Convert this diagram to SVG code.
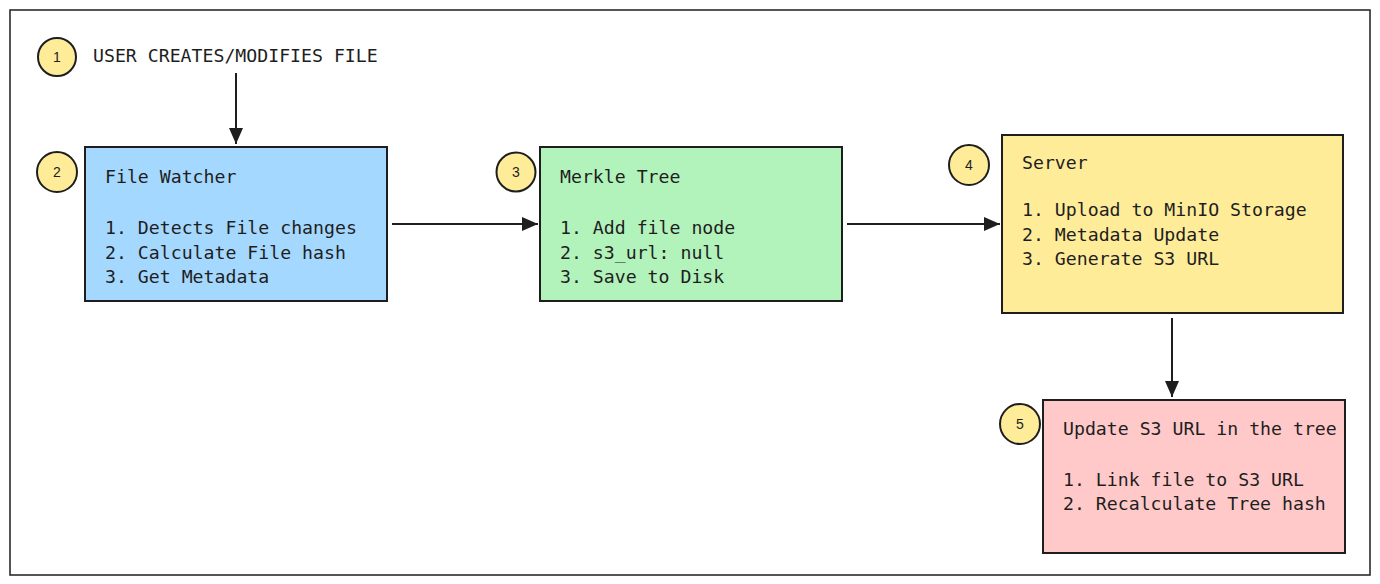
<svg xmlns="http://www.w3.org/2000/svg" width="1380" height="584" viewBox="0 0 1380 584">
  <style>
    .frame { fill: #ffffff; stroke: #1e1e1e; stroke-width: 1.5; }
    .box { stroke: #1e1e1e; stroke-width: 2; }
    .badge { fill: #ffec99; stroke: #1e1e1e; stroke-width: 2; }
    .num { font-family: "Liberation Sans", "Noto Sans", sans-serif; font-size: 14px; fill: #1e1e1e; text-anchor: middle; }
    .txt { font-family: "DejaVu Sans Mono", "Liberation Mono", monospace; font-size: 18.2px; fill: #1e1e1e; }
    .edge { stroke: #1e1e1e; stroke-width: 2; fill: none; marker-end: url(#head); }
  </style>
  <defs>
    <marker id="head" viewBox="0 0 16 14" refX="16" refY="7" markerWidth="16" markerHeight="14" markerUnits="userSpaceOnUse" orient="auto">
      <path d="M0,0 L16,7 L0,14 Z" fill="#1e1e1e"/>
    </marker>
  </defs>

  <rect class="frame" x="10" y="10" width="1360" height="565"/>

  <!-- step 1: trigger -->
  <g id="start">
    <circle class="badge" cx="57" cy="57" r="19"/>
    <text class="num" x="57" y="62">1</text>
    <text class="txt" x="93" y="62">USER CREATES/MODIFIES FILE</text>
  </g>

  <!-- step 2 -->
  <g id="file-watcher">
    <rect class="box" x="85" y="147" width="302" height="154" fill="#a5d8ff"/>
    <circle class="badge" cx="57" cy="172" r="20"/>
    <text class="num" x="57" y="177">2</text>
    <text class="txt" x="105" y="183">File Watcher</text>
    <text class="txt" x="105" y="234">1. Detects File changes</text>
    <text class="txt" x="105" y="259">2. Calculate File hash</text>
    <text class="txt" x="105" y="283">3. Get Metadata</text>
  </g>

  <!-- step 3 -->
  <g id="merkle-tree">
    <rect class="box" x="540" y="147" width="302" height="154" fill="#b2f2bb"/>
    <circle class="badge" cx="516" cy="172" r="19.5"/>
    <text class="num" x="516" y="177">3</text>
    <text class="txt" x="560" y="183">Merkle Tree</text>
    <text class="txt" x="560" y="234">1. Add file node</text>
    <text class="txt" x="560" y="259">2. s3_url: null</text>
    <text class="txt" x="560" y="283">3. Save to Disk</text>
  </g>

  <!-- step 4 -->
  <g id="server">
    <rect class="box" x="1002" y="135" width="341" height="178" fill="#ffec99"/>
    <circle class="badge" cx="969" cy="165" r="20"/>
    <text class="num" x="969" y="170">4</text>
    <text class="txt" x="1022" y="169">Server</text>
    <text class="txt" x="1022" y="216">1. Upload to MinIO Storage</text>
    <text class="txt" x="1022" y="241">2. Metadata Update</text>
    <text class="txt" x="1022" y="265">3. Generate S3 URL</text>
  </g>

  <!-- step 5 -->
  <g id="update-tree">
    <rect class="box" x="1043" y="400" width="302" height="153" fill="#ffc9c9"/>
    <circle class="badge" cx="1020" cy="424" r="20"/>
    <text class="num" x="1020" y="429">5</text>
    <text class="txt" x="1063" y="435">Update S3 URL in the tree</text>
    <text class="txt" x="1063" y="486">1. Link file to S3 URL</text>
    <text class="txt" x="1063" y="510">2. Recalculate Tree hash</text>
  </g>

  <g id="connectors">
    <line class="edge" x1="236" y1="73" x2="236" y2="144"/>
    <line class="edge" x1="392" y1="224" x2="538" y2="224"/>
    <line class="edge" x1="847" y1="224" x2="1000" y2="224"/>
    <line class="edge" x1="1172" y1="318" x2="1172" y2="397"/>
  </g>
</svg>
